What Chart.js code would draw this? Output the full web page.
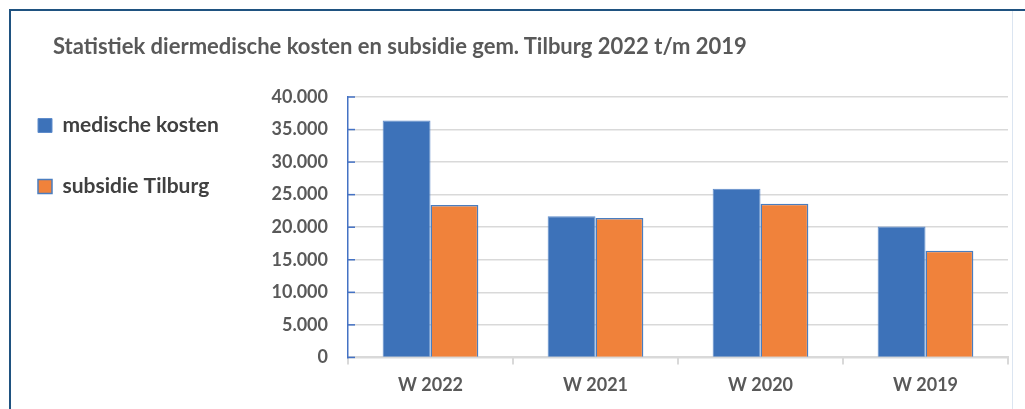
<!DOCTYPE html>
<html>
<head>
<meta charset="utf-8">
<script src="https://cdn.jsdelivr.net/npm/chart.js@4"></script>
<style>
  html, body { margin: 0; padding: 0; background: #fff; overflow: hidden; }
  #page { position: relative; width: 1025px; height: 409px; }
  #frame { position: absolute; left: 9px; top: 9px; right: 0; bottom: 0; border-left: 2px solid #1f5280; border-top: 2px solid #1f5280; }
  #rline { position: absolute; left: 1012px; top: 11px; width: 1px; bottom: 0; background: #dbe5f1; }
  #title { position: absolute; left: 53px; top: 33px; font: bold 22px Lato, sans-serif; color: #595959; line-height: 26px; white-space: nowrap; }
  #wrap { position: absolute; left: -5px; top: 0; width: 1030px; height: 409px; }
</style>
</head>
<body>
<div id="page">
  <div id="wrap"><canvas id="kostenChart" width="1030" height="409"></canvas></div>
  <div id="frame"></div>
  <div id="rline"></div>
  <div id="title">Statistiek diermedische kosten en subsidie gem. Tilburg 2022 t/m 2019</div>
</div>
<script>
// data
const categories = ["W 2022", "W 2021", "W 2020", "W 2019"];
const medischeKosten = [36400, 21700, 25900, 20100];
const subsidieTilburg = [23400, 21400, 23600, 16400];
const yMin = 0;
const yMax = 40000;
const yStep = 5000;

function formatNL(v) {
  return String(v).replace(/\B(?=(\d{3})+(?!\d))/g, ".");
}

// small blue marks on the inside of the y axis
const innerTicks = {
  id: "innerTicks",
  afterDatasetsDraw(chart) {
    const y = chart.scales.y;
    const ctx = chart.ctx;
    ctx.save();
    ctx.strokeStyle = "#4472c4";
    ctx.lineWidth = 1.5;
    y.ticks.forEach(t => {
      const py = y.getPixelForValue(t.value);
      ctx.beginPath();
      ctx.moveTo(chart.chartArea.left, py);
      ctx.lineTo(chart.chartArea.left + 7, py);
      ctx.stroke();
    });
    ctx.restore();
  }
};

const ctx = document.getElementById("kostenChart").getContext("2d");
const kostenChart = new Chart(ctx, {
  type: "bar",
  data: {
    labels: categories,
    datasets: [{
      label: "medische kosten",
      data: medischeKosten,
      backgroundColor: "#3d72b9",
      borderColor: "#5f8ccb",
      borderWidth: 1
    }, {
      label: "subsidie Tilburg",
      data: subsidieTilburg,
      backgroundColor: "#f0823b",
      borderColor: "#4a7dbf",
      borderWidth: 1.5
    }]
  },
  plugins: [innerTicks],
  options: {
    responsive: false,
    animation: false,
    devicePixelRatio: 1,
    datasets: { bar: { categoryPercentage: 0.58, barPercentage: 1 } },
    layout: { padding: { top: 75, left: 3, right: 17, bottom: 3 } },
    plugins: {
      title: { display: false },
      tooltip: { enabled: false },
      legend: {
        position: "left",
        align: "start",
        labels: {
          boxWidth: 14,
          boxHeight: 14,
          padding: 40,
          color: "#404040",
          font: { family: "Lato", size: 21, weight: "bold" }
        }
      }
    },
    scales: {
      x: {
        grid: {
          offset: true,
          drawOnChartArea: true,
          color: c => (c.index === categories.length ? "#d9d9d9" : "rgba(0,0,0,0)"),
          lineWidth: 2,
          tickColor: "#d9d9d9",
          tickLength: 7
        },
        border: { color: "#d9d9d9", width: 2 },
        ticks: {
          padding: 10,
          color: "#595959",
          font: { family: "Lato", size: 18, weight: "bold" }
        }
      },
      y: {
        min: yMin,
        max: yMax,
        ticks: {
          stepSize: yStep,
          padding: 20,
          color: "#595959",
          font: { family: "Lato", size: 18, weight: "bold" },
          callback: v => formatNL(v)
        },
        grid: { color: "#d9d9d9", lineWidth: 1.5, drawTicks: false },
        border: { color: "#4472c4", width: 1.5 },
        afterFit: s => {
          s.width = 353 - 3 - s.chart.legend.width;
          s.paddingTop = 97;
        }
      }
    }
  }
});
</script>
</body>
</html>
